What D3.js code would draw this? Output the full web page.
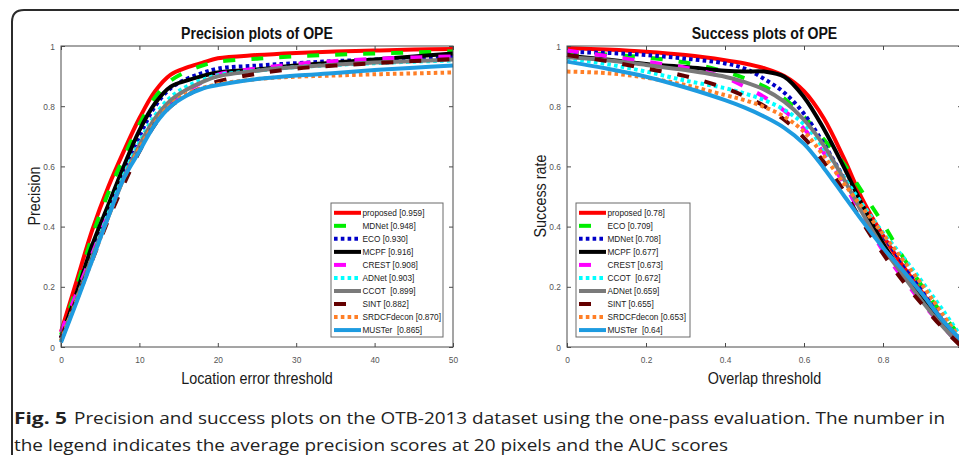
<!DOCTYPE html>
<html>
<head>
<meta charset="utf-8">
<script src="https://cdn.jsdelivr.net/npm/d3@7"></script>
<style>
  body { margin: 0; background: #fff; }
  svg { display: block; font-family: "Liberation Sans", Arial, sans-serif; }
  .leg text { white-space: pre; }
</style>
</head>
<body>
<svg id="fig" width="959" height="455"></svg>
<script>
// ---------- data ----------
var precX = [0, 2, 4, 6, 8, 10, 12, 14, 16, 18, 20, 25, 30, 35, 40, 45, 50];
var precNames = ["proposed [0.959]", "MDNet [0.948]", "ECO [0.930]", "MCPF [0.916]", "CREST [0.908]",
                 "ADNet [0.903]", "CCOT  [0.899]", "SINT [0.882]", "SRDCFdecon [0.870]", "MUSTer  [0.865]"];
var precProposed = [0.05, 0.22, 0.39, 0.53, 0.65, 0.76, 0.85, 0.905, 0.928, 0.944, 0.959, 0.970, 0.977, 0.982, 0.985, 0.988, 0.990];
var precMDNet    = [0.04, 0.20, 0.37, 0.51, 0.63, 0.74, 0.83, 0.885, 0.915, 0.935, 0.948, 0.958, 0.966, 0.971, 0.975, 0.979, 0.982];
var precECO      = [0.03, 0.17, 0.32, 0.46, 0.59, 0.70, 0.80, 0.860, 0.890, 0.910, 0.925, 0.935, 0.943, 0.950, 0.955, 0.960, 0.966];
var precMCPF     = [0.03, 0.18, 0.34, 0.47, 0.60, 0.72, 0.81, 0.865, 0.885, 0.900, 0.912, 0.922, 0.935, 0.945, 0.955, 0.965, 0.975];
var precCREST    = [0.05, 0.18, 0.31, 0.44, 0.56, 0.67, 0.75, 0.810, 0.850, 0.880, 0.905, 0.925, 0.940, 0.950, 0.957, 0.962, 0.965];
var precADNet    = [0.02, 0.16, 0.30, 0.44, 0.57, 0.68, 0.77, 0.830, 0.865, 0.887, 0.903, 0.918, 0.930, 0.937, 0.943, 0.948, 0.952];
var precCCOT     = [0.02, 0.16, 0.30, 0.43, 0.56, 0.67, 0.76, 0.820, 0.855, 0.880, 0.899, 0.918, 0.930, 0.938, 0.945, 0.950, 0.955];
var precSINT     = [0.03, 0.16, 0.29, 0.42, 0.54, 0.65, 0.74, 0.800, 0.835, 0.862, 0.882, 0.908, 0.925, 0.935, 0.943, 0.950, 0.957];
var precSRDCF    = [0.02, 0.155, 0.29, 0.43, 0.56, 0.66, 0.745, 0.805, 0.840, 0.860, 0.873, 0.890, 0.898, 0.902, 0.906, 0.909, 0.912];
var precMUSTer   = [0.015, 0.15, 0.29, 0.43, 0.56, 0.65, 0.74, 0.800, 0.835, 0.858, 0.870, 0.890, 0.902, 0.910, 0.920, 0.928, 0.935];

var succX = [0, 0.1, 0.2, 0.3, 0.4, 0.45, 0.5, 0.55, 0.6, 0.65, 0.7, 0.75, 0.8, 0.85, 0.9, 0.95, 1];
var succNames = ["proposed [0.78]", "ECO [0.709]", "MDNet [0.708]", "MCPF [0.677]", "CREST [0.673]",
                 "CCOT  [0.672]", "ADNet [0.659]", "SINT [0.655]", "SRDCFdecon [0.653]", "MUSTer  [0.64]"];
var succProposed = [0.993, 0.988, 0.981, 0.970, 0.953, 0.942, 0.926, 0.900, 0.850, 0.760, 0.630, 0.485, 0.370, 0.270, 0.180, 0.090, 0.010];
var succECO      = [0.978, 0.972, 0.962, 0.945, 0.915, 0.893, 0.865, 0.825, 0.765, 0.690, 0.610, 0.510, 0.410, 0.300, 0.200, 0.110, 0.030];
var succMDNet    = [0.980, 0.977, 0.970, 0.958, 0.942, 0.925, 0.890, 0.845, 0.775, 0.675, 0.565, 0.460, 0.370, 0.280, 0.190, 0.100, 0.015];
var succMCPF     = [0.968, 0.955, 0.940, 0.930, 0.918, 0.915, 0.915, 0.898, 0.830, 0.725, 0.600, 0.465, 0.345, 0.245, 0.160, 0.075, 0.000];
var succCREST    = [0.985, 0.967, 0.948, 0.928, 0.895, 0.865, 0.830, 0.785, 0.725, 0.645, 0.545, 0.430, 0.320, 0.230, 0.145, 0.070, 0.000];
var succCCOT     = [0.960, 0.940, 0.915, 0.885, 0.860, 0.842, 0.820, 0.788, 0.740, 0.660, 0.565, 0.470, 0.380, 0.300, 0.215, 0.125, 0.030];
var succADNet    = [0.963, 0.953, 0.937, 0.920, 0.898, 0.880, 0.855, 0.815, 0.755, 0.670, 0.560, 0.440, 0.330, 0.240, 0.150, 0.070, 0.000];
var succSINT     = [0.970, 0.950, 0.925, 0.900, 0.860, 0.833, 0.800, 0.755, 0.695, 0.615, 0.520, 0.410, 0.310, 0.220, 0.140, 0.065, 0.000];
var succSRDCF    = [0.915, 0.910, 0.895, 0.870, 0.837, 0.820, 0.797, 0.765, 0.715, 0.635, 0.545, 0.460, 0.375, 0.290, 0.205, 0.110, 0.020];
var succMUSTer   = [0.948, 0.925, 0.898, 0.862, 0.820, 0.795, 0.765, 0.728, 0.675, 0.595, 0.505, 0.415, 0.330, 0.255, 0.175, 0.090, 0.020];

var yTicks = [0, 0.2, 0.4, 0.6, 0.8, 1];
var precTicks = [0, 10, 20, 30, 40, 50];
var succTicks = [0, 0.2, 0.4, 0.6, 0.8, 1];

// line style per rank (same for both plots)
var rankColor = ["#ff0000", "#00ee00", "#0000c8", "#000000", "#ff00ff", "#00ffff", "#7a7a7a", "#640000", "#ff7f27", "#1e9be0"];
var rankStyle = ["solid", "dash", "dot", "solid", "dash", "dot", "solid", "dash", "dot", "solid"];

var svg = d3.select("#fig");

// squeeze text horizontally (the figure is slightly compressed)
function squeeze(sel, k) {
  sel.each(function () {
    var w = this.getComputedTextLength();
    if (!w) return;
    this.setAttribute("textLength", w * k);
    this.setAttribute("lengthAdjust", "spacingAndGlyphs");
  });
}

function dashOf(s) {
  if (s == "dash") return "12,16";
  if (s == "dot") return "3.6,3.2";
  return null;
}

function drawPlot(opt) {
  var x = d3.scaleLinear().domain(opt.xDomain).range([opt.left, opt.right]);
  var y = d3.scaleLinear().domain([0, 1]).range([347, 46]);
  var g = svg.append("g");

  // curves
  var line = d3.line()
    .x(function (d) { return x(d[0]); })
    .y(function (d) { return y(d[1]); })
    .curve(d3.curveCatmullRom.alpha(0.5));

  opt.series.forEach(function (vals, i) {
    var pts = opt.xs.map(function (v, j) { return [v, vals[j]]; });
    g.append("path")
      .attr("d", line(pts))
      .attr("fill", "none")
      .attr("stroke", rankColor[i])
      .attr("stroke-width", 4)
      .attr("stroke-dasharray", dashOf(rankStyle[i]));
  });

  // box + inward ticks
  g.append("rect")
    .attr("x", opt.left).attr("y", 46)
    .attr("width", opt.right - opt.left).attr("height", 301)
    .attr("fill", "none").attr("stroke", "#4a4a4a").attr("stroke-width", 1);

  var bottom = g.append("g").attr("transform", "translate(0,347)")
    .call(d3.axisBottom(x).tickValues(opt.xTicks)
      .tickFormat(function (d) { return d > opt.lastLabel ? "" : d3.format("~g")(d); })
      .tickSizeInner(-4).tickSizeOuter(0).tickPadding(9));
  var top = g.append("g").attr("transform", "translate(0,46)")
    .call(d3.axisTop(x).tickValues(opt.xTicks).tickFormat("")
      .tickSizeInner(-4).tickSizeOuter(0));
  var left = g.append("g").attr("transform", "translate(" + opt.left + ",0)")
    .call(d3.axisLeft(y).tickValues(yTicks).tickFormat(d3.format("~g"))
      .tickSizeInner(-4).tickSizeOuter(0).tickPadding(6));
  var right = g.append("g").attr("transform", "translate(" + opt.right + ",0)")
    .call(d3.axisRight(y).tickValues(yTicks).tickFormat("")
      .tickSizeInner(-4).tickSizeOuter(0));

  [bottom, top, left, right].forEach(function (a) {
    a.select(".domain").remove();
    a.selectAll("line").attr("stroke", "#4a4a4a");
    a.selectAll("text").attr("fill", "#555").style("font-size", "9.5px")
      .style("font-family", "'Liberation Sans', Arial, sans-serif");
  });
  squeeze(bottom.selectAll("text"), 0.88);
  squeeze(left.selectAll("text"), 0.88);

  // titles
  var cx = (opt.left + opt.right) / 2;
  var t = g.append("text").attr("x", cx).attr("y", 38.5).attr("text-anchor", "middle")
    .style("font-size", "16px").style("font-weight", "bold").attr("fill", "#111").text(opt.title);
  squeeze(t, 0.88);
  var xl = g.append("text").attr("x", cx).attr("y", 384).attr("text-anchor", "middle")
    .style("font-size", "16.5px").attr("fill", "#1a1a1a").text(opt.xLabel);
  squeeze(xl, 0.87);
  var yl = g.append("text").attr("transform", "translate(" + opt.yLabelX + ",196) rotate(-90)")
    .attr("text-anchor", "middle").style("font-size", "16.5px").attr("fill", "#1a1a1a").text(opt.yLabel);
  squeeze(yl, 0.87);

  // legend
  var lg = g.append("g").attr("class", "leg");
  lg.append("rect")
    .attr("x", opt.legX).attr("y", 203).attr("width", opt.legW).attr("height", 134)
    .attr("fill", "#fff").attr("stroke", "#6a6a6a").attr("stroke-width", 1);
  opt.names.forEach(function (name, i) {
    var ry = 212.8 + i * 13.03;
    lg.append("line")
      .attr("x1", opt.legX + 3).attr("x2", opt.legX + 30)
      .attr("y1", ry).attr("y2", ry)
      .attr("stroke", rankColor[i]).attr("stroke-width", 4)
      .attr("stroke-dasharray", dashOf(rankStyle[i]));
    var tx = lg.append("text")
      .attr("x", opt.legX + 31.5).attr("y", ry + 3.4)
      .style("font-size", "9.6px").attr("fill", "#222").text(name);
    squeeze(tx, 0.86);
  });
}

drawPlot({
  left: 61, right: 453, xDomain: [0, 50], xTicks: precTicks, xs: precX, lastLabel: 50,
  series: [precProposed, precMDNet, precECO, precMCPF, precCREST, precADNet, precCCOT, precSINT, precSRDCF, precMUSTer],
  names: precNames, title: "Precision plots of OPE", xLabel: "Location error threshold",
  yLabel: "Precision", yLabelX: 40, legX: 331, legW: 112
});

drawPlot({
  left: 567, right: 962, xDomain: [0, 1], xTicks: succTicks, xs: succX, lastLabel: 0.8,
  series: [succProposed, succECO, succMDNet, succMCPF, succCREST, succCCOT, succADNet, succSINT, succSRDCF, succMUSTer],
  names: succNames, title: "Success plots of OPE", xLabel: "Overlap threshold",
  yLabel: "Success rate", yLabelX: 546, legX: 576, legW: 114
});

// outer figure frame
svg.append("path")
  .attr("d", "M12,470 V22 Q12,10 24,10 H980")
  .attr("fill", "none").attr("stroke", "#2b2b2b").attr("stroke-width", 2);

// caption
var capFont = "'Open Sans', 'Noto Sans', sans-serif";
var fig = svg.append("text").attr("x", 14).attr("y", 424)
  .style("font-family", capFont).style("font-size", "16px").style("font-weight", "bold")
  .attr("fill", "#222").text("Fig. 5");
fig.attr("textLength", 53).attr("lengthAdjust", "spacingAndGlyphs");

var cap1 = svg.append("text").attr("x", 74).attr("y", 424)
  .style("font-family", capFont).style("font-size", "16px").attr("fill", "#222")
  .text("Precision and success plots on the OTB-2013 dataset using the one-pass evaluation. The number in");
var cap2 = svg.append("text").attr("x", 14).attr("y", 451)
  .style("font-family", capFont).style("font-size", "16px").attr("fill", "#222")
  .text("the legend indicates the average precision scores at 20 pixels and the AUC scores");
var k = 871 / cap1.node().getComputedTextLength();
squeeze(cap1, k);
squeeze(cap2, k);
</script>
</body>
</html>
